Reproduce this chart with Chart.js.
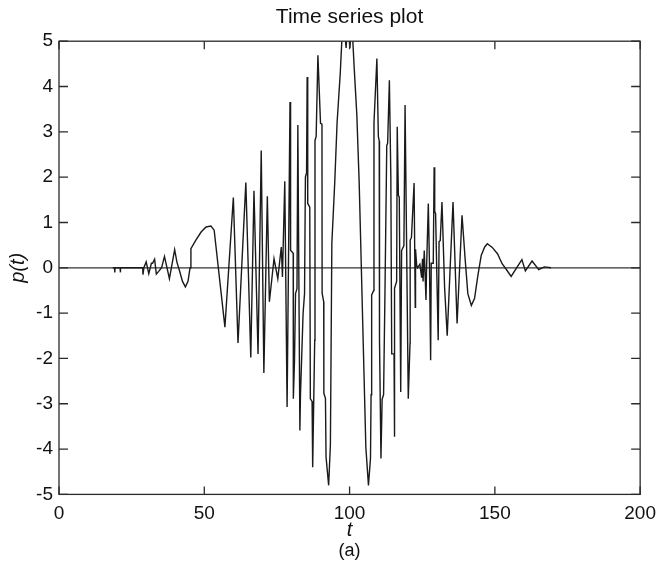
<!DOCTYPE html>
<html lang="en">
<head>
<meta charset="UTF-8">
<title>Time series plot</title>
<script src="https://cdn.jsdelivr.net/npm/chart.js"></script>
<style>
  body { margin: 0; background: #fff; }
  canvas { display: block; }
</style>
</head>
<body>
<canvas id="serie" width="664" height="572"></canvas>
<script>
// values
const tVals = [18.5, 19.1, 19.2, 19.3, 21.0, 21.1, 21.2, 28.8, 28.9, 29.2, 30.0, 30.9, 31.8, 32.2, 32.9, 33.5, 34.3, 35.3, 36.3, 38.0,
  39.8, 40.6, 41.4, 42.5, 43.5, 44.4, 45.1, 45.4, 47.1, 48.9, 50.6, 52.3, 53.4, 57.1, 60.0, 61.6, 64.3, 66.0, 67.1, 68.5,
  69.6, 70.5, 71.7, 72.4, 74.0, 75.3, 76.5, 76.9, 77.7, 78.5, 79.5, 79.7, 80.6, 80.65, 81.05, 81.4, 81.9, 82.2, 82.9, 83.1,
  84.0, 84.5, 84.8, 85.2, 85.4, 85.6, 86.3, 86.5, 87.1, 87.3, 88.0, 88.1, 88.5, 89.1, 90.0, 90.5, 90.55, 91.1, 91.15, 91.7,
  91.9, 92.8, 93.4, 93.9, 94.9, 95.7, 96.8, 97.4, 98.0, 98.8, 99.4, 100.1, 100.8, 101.6, 102.5, 103.3, 103.7, 105.6, 106.5, 107.2,
  107.4, 107.6, 108.3, 108.4, 109.4, 109.9, 110.2, 110.3, 110.8, 111.2, 111.7, 112.2, 112.8, 113.1, 113.7, 114.2, 114.5, 115.3, 115.35, 115.6,
  116.2, 116.4, 116.8, 117.1, 117.6, 117.9, 118.7, 119.1, 119.6, 120.2, 120.8, 120.85, 121.3, 122.2, 122.6, 122.7, 123.1, 123.4, 124.2, 124.8,
  125.1, 125.3, 125.7, 126.3, 126.5, 127.1, 127.5, 127.9, 128.1, 128.8, 129.1, 129.3, 129.6, 130.5, 130.8, 131.2, 131.8, 132.7, 133.6, 135.6,
  137.0, 138.7, 139.8, 140.7, 141.9, 143.0, 144.2, 145.3, 146.5, 147.4, 149.1, 150.9, 152.5, 154.2, 155.6, 159.3, 160.5, 162.8, 165.1, 167.0,
  169.3];
const pVals = [0, 0, -0.1, 0, 0, -0.1, 0, 0, -0.15, 0, 0.13, -0.13, 0.1, 0.1, 0.19, -0.14, -0.08, 0, 0.25, -0.24,
  0.40, 0.12, -0.05, -0.3, -0.42, -0.3, 0, 0.42, 0.61, 0.79, 0.90, 0.92, 0.83, -1.31, 1.55, -1.66, 1.88, -1.98, 1.70, -1.90,
  2.59, -2.32, 1.58, -0.75, 0.20, -0.24, 0.46, -0.2, 1.91, -3.07, 3.66, 0.39, 0.32, -2.89, -2.04, -0.57, -0.46, 3.15, -3.59, -2.81,
  -1.01, -0.57, 2.0, 2.1, 4.21, 1.42, 1.34, -2.89, -2.95, -4.4, -1.6, 2.81, 2.9, 4.69, 3.19, 3.17, -0.56, -0.75, -2.77, -2.88,
  -4.17, -4.8, -3.9, 0.54, 1.89, 3.2, 4.3, 5.1, 5.5, 4.85, 5.5, 4.85, 5.4, 4.4, 3.37, 1.89, 0.89, -3.96, -4.8, -4.2,
  -2.8, -0.6, -0.5, 3.2, 4.62, 2.9, 2.8, -1.6, -4.21, -2.9, -2.8, -0.45, 2.7, 2.75, 4.14, 2.0, -1.9, -1.9, -3.73, -0.45,
  -0.3, 3.11, 1.6, 1.56, -2.74, 0.38, 0.49, 3.59, 0.67, -2.89, -1.67, 0.61, 0.67, 1.87, -0.87, 0.41, 0.05, 0, 0.08, -0.22,
  0.2, -0.3, 0.38, -0.71, 0, 1.42, 0.05, -2.04, 0.1, 0.1, 2.22, 1.24, 1.2, -1.6, 0.58, 0.6, 1.45, -0.43, -1.5, 1.45,
  -1.23, 1.16, 0.17, -0.57, -0.83, -0.68, -0.15, 0.27, 0.46, 0.53, 0.45, 0.31, 0.09, -0.06, -0.19, 0.18, -0.07, 0.15, -0.04, 0.02,
  0];
const zeroT = [0, 200];
const zeroP = [0, 0];
const xTicks = [0, 50, 100, 150, 200];
const yTicks = [-5, -4, -3, -2, -1, 0, 1, 2, 3, 4, 5];

const fam = '"Liberation Sans", Arial, sans-serif';

// frame box with inward ticks on all four sides
const marco = {
  id: 'marco',
  afterDatasetsDraw(chart) {
    const {ctx, chartArea: a, scales: {x, y}} = chart;
    ctx.save();
    ctx.strokeStyle = '#2a2a2a';
    ctx.lineWidth = 1.3;
    ctx.strokeRect(a.left, a.top, a.right - a.left, a.bottom - a.top);
    ctx.beginPath();
    xTicks.forEach(v => {
      const px = x.getPixelForValue(v);
      ctx.moveTo(px, a.bottom); ctx.lineTo(px, a.bottom - 8);
      ctx.moveTo(px, a.top); ctx.lineTo(px, a.top + 8);
    });
    yTicks.forEach(v => {
      const py = y.getPixelForValue(v);
      ctx.moveTo(a.left, py); ctx.lineTo(a.left + 9, py);
      ctx.moveTo(a.right, py); ctx.lineTo(a.right - 9, py);
    });
    ctx.stroke();
    ctx.restore();
  }
};

new Chart(document.getElementById('serie'), {
  type: 'line',
  data: {
    datasets: [
      { data: tVals.map((t, i) => ({x: t, y: pVals[i]})),
        borderColor: '#1a1a1a', borderWidth: 1.4, pointRadius: 0, tension: 0 },
      { data: zeroT.map((t, i) => ({x: t, y: zeroP[i]})),
        borderColor: '#333', borderWidth: 1.3, pointRadius: 0 }
    ]
  },
  options: {
    responsive: false,
    animation: false,
    devicePixelRatio: 1,
    layout: { padding: { left: 0, right: 21, top: 0, bottom: 0 } },
    plugins: {
      legend: { display: false },
      tooltip: { enabled: false },
      title: { display: true, text: 'Time series plot', fullSize: false, color: '#111',
               font: { family: fam, size: 21, weight: 'normal' }, padding: { top: 5, bottom: 11 } },
      subtitle: { display: true, text: '(a)', position: 'bottom', fullSize: false, color: '#111',
                  font: { family: fam, size: 18 }, padding: { top: 0, bottom: 10 } }
    },
    scales: {
      x: {
        type: 'linear', min: 0, max: 200,
        grid: { display: false, drawTicks: false },
        border: { display: false },
        ticks: { stepSize: 50, padding: 8, color: '#111', font: { family: fam, size: 19 } },
        title: { display: true, text: 't', color: '#111', padding: 0,
                 font: { family: fam, size: 20, style: 'italic', lineHeight: 1 } },
        afterFit: s => { s.height = 46; }
      },
      y: {
        min: -5, max: 5,
        grid: { display: false, drawTicks: false },
        border: { display: false },
        ticks: { stepSize: 1, padding: 6, color: '#111', font: { family: fam, size: 19 } },
        title: { display: true, text: 'p(t)', color: '#111', padding: { top: 6, bottom: 0 },
                 font: { family: fam, size: 20, style: 'italic' } },
        afterFit: s => { s.width = 59; }
      }
    }
  },
  plugins: [marco]
});
</script>
</body>
</html>
